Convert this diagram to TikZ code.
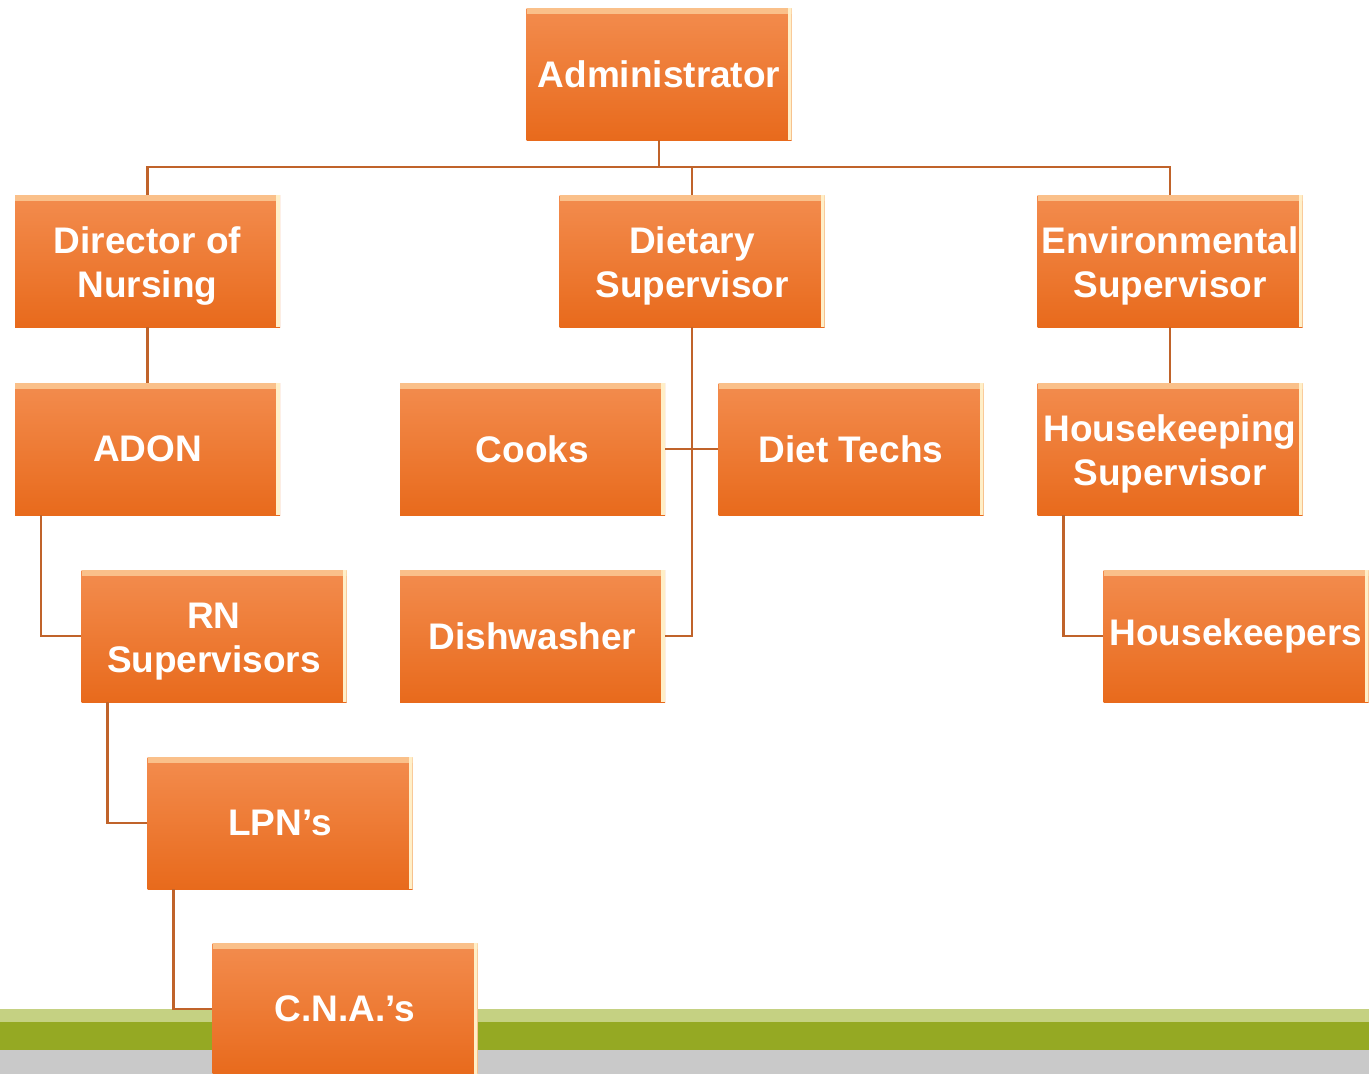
\documentclass[tikz,border=0pt]{standalone}
\usepackage{fontspec}
\setmainfont{Liberation Sans}
\definecolor{boxtop}{HTML}{F38C4E}
\definecolor{boxbot}{HTML}{E86A1C}
\definecolor{bevelhi}{HTML}{FAC08A}
\definecolor{bevelr}{HTML}{FFEFC8}
\definecolor{connc}{HTML}{C0632A}
\definecolor{stripelight}{HTML}{C5D182}
\definecolor{stripegreen}{HTML}{95A923}
\definecolor{stripegrey}{HTML}{C9C9C9}
\newcommand{\dropline}{\rule{0pt}{36pt}}
\tikzset{
  orgbox/.style={rectangle, minimum width=265pt, minimum height=132pt, inner sep=0pt,
    top color=boxtop, bottom color=boxbot, text=white, align=center,
    font=\fontsize{37}{44}\selectfont\bfseries,
    path picture={
      \fill[bevelhi] (path picture bounding box.north west) rectangle ([yshift=-6pt]path picture bounding box.north east);
      \fill[bevelr] ([xshift=-4pt]path picture bounding box.south east) rectangle (path picture bounding box.north east);
    }},
  conn/.style={draw=connc, line width=2.6pt}
}
\begin{document}
\begin{tikzpicture}[x=1pt, y=-1pt]
\useasboundingbox (0,0) rectangle (1369,1074);
% bottom stripes
\fill[stripelight] (0,1009) rectangle (1369,1022);
\fill[stripegreen] (0,1022) rectangle (1369,1050);
\fill[stripegrey] (0,1050) rectangle (1369,1074);
% boxes
\node[orgbox] (admin) at (659,74) {Administrator};
\node[orgbox] (dir) at (147.5,261) {\dropline Director of\\Nursing};
\node[orgbox] (diet) at (692,261) {\dropline Dietary\\Supervisor};
\node[orgbox] (env) at (1170,261) {\dropline Environmental\\Supervisor};
\node[orgbox] (adon) at (147.5,449) {ADON};
\node[orgbox] (cooks) at (532.5,449) {Cooks};
\node[orgbox] (techs) at (851,449) {Diet Techs};
\node[orgbox] (house) at (1170,449) {\dropline Housekeeping\\Supervisor};
\node[orgbox] (rn) at (214,636) {\dropline RN\\Supervisors};
\node[orgbox] (dish) at (532.5,636) {Dishwasher};
\node[orgbox] (keepers) at (1236,636) {Housekeepers};
\node[orgbox] (lpn) at (280,823) {LPN’s};
\node[orgbox] (cna) at (345,1009) {C.N.A.’s};
% connectors
\coordinate (bus) at (659,167);
\draw[conn] (admin.south) -- (bus);
\draw[conn] (bus) -| (dir.north);
\draw[conn] (bus) -| (diet.north);
\draw[conn] (bus) -| (env.north);
\draw[conn] (dir.south) -- (adon.north);
\draw[conn] (diet.south) |- (cooks.east);
\draw[conn] (diet.south) |- (techs.west);
\draw[conn] (diet.south) |- (dish.east);
\draw[conn] (env.south) -- (house.north);
\draw[conn] ([xshift=26pt]adon.south west) |- (rn.west);
\draw[conn] ([xshift=26pt]rn.south west) |- (lpn.west);
\draw[conn] ([xshift=26pt]lpn.south west) |- (cna.west);
\draw[conn] ([xshift=26pt]house.south west) |- (keepers.west);
\end{tikzpicture}
\end{document}
